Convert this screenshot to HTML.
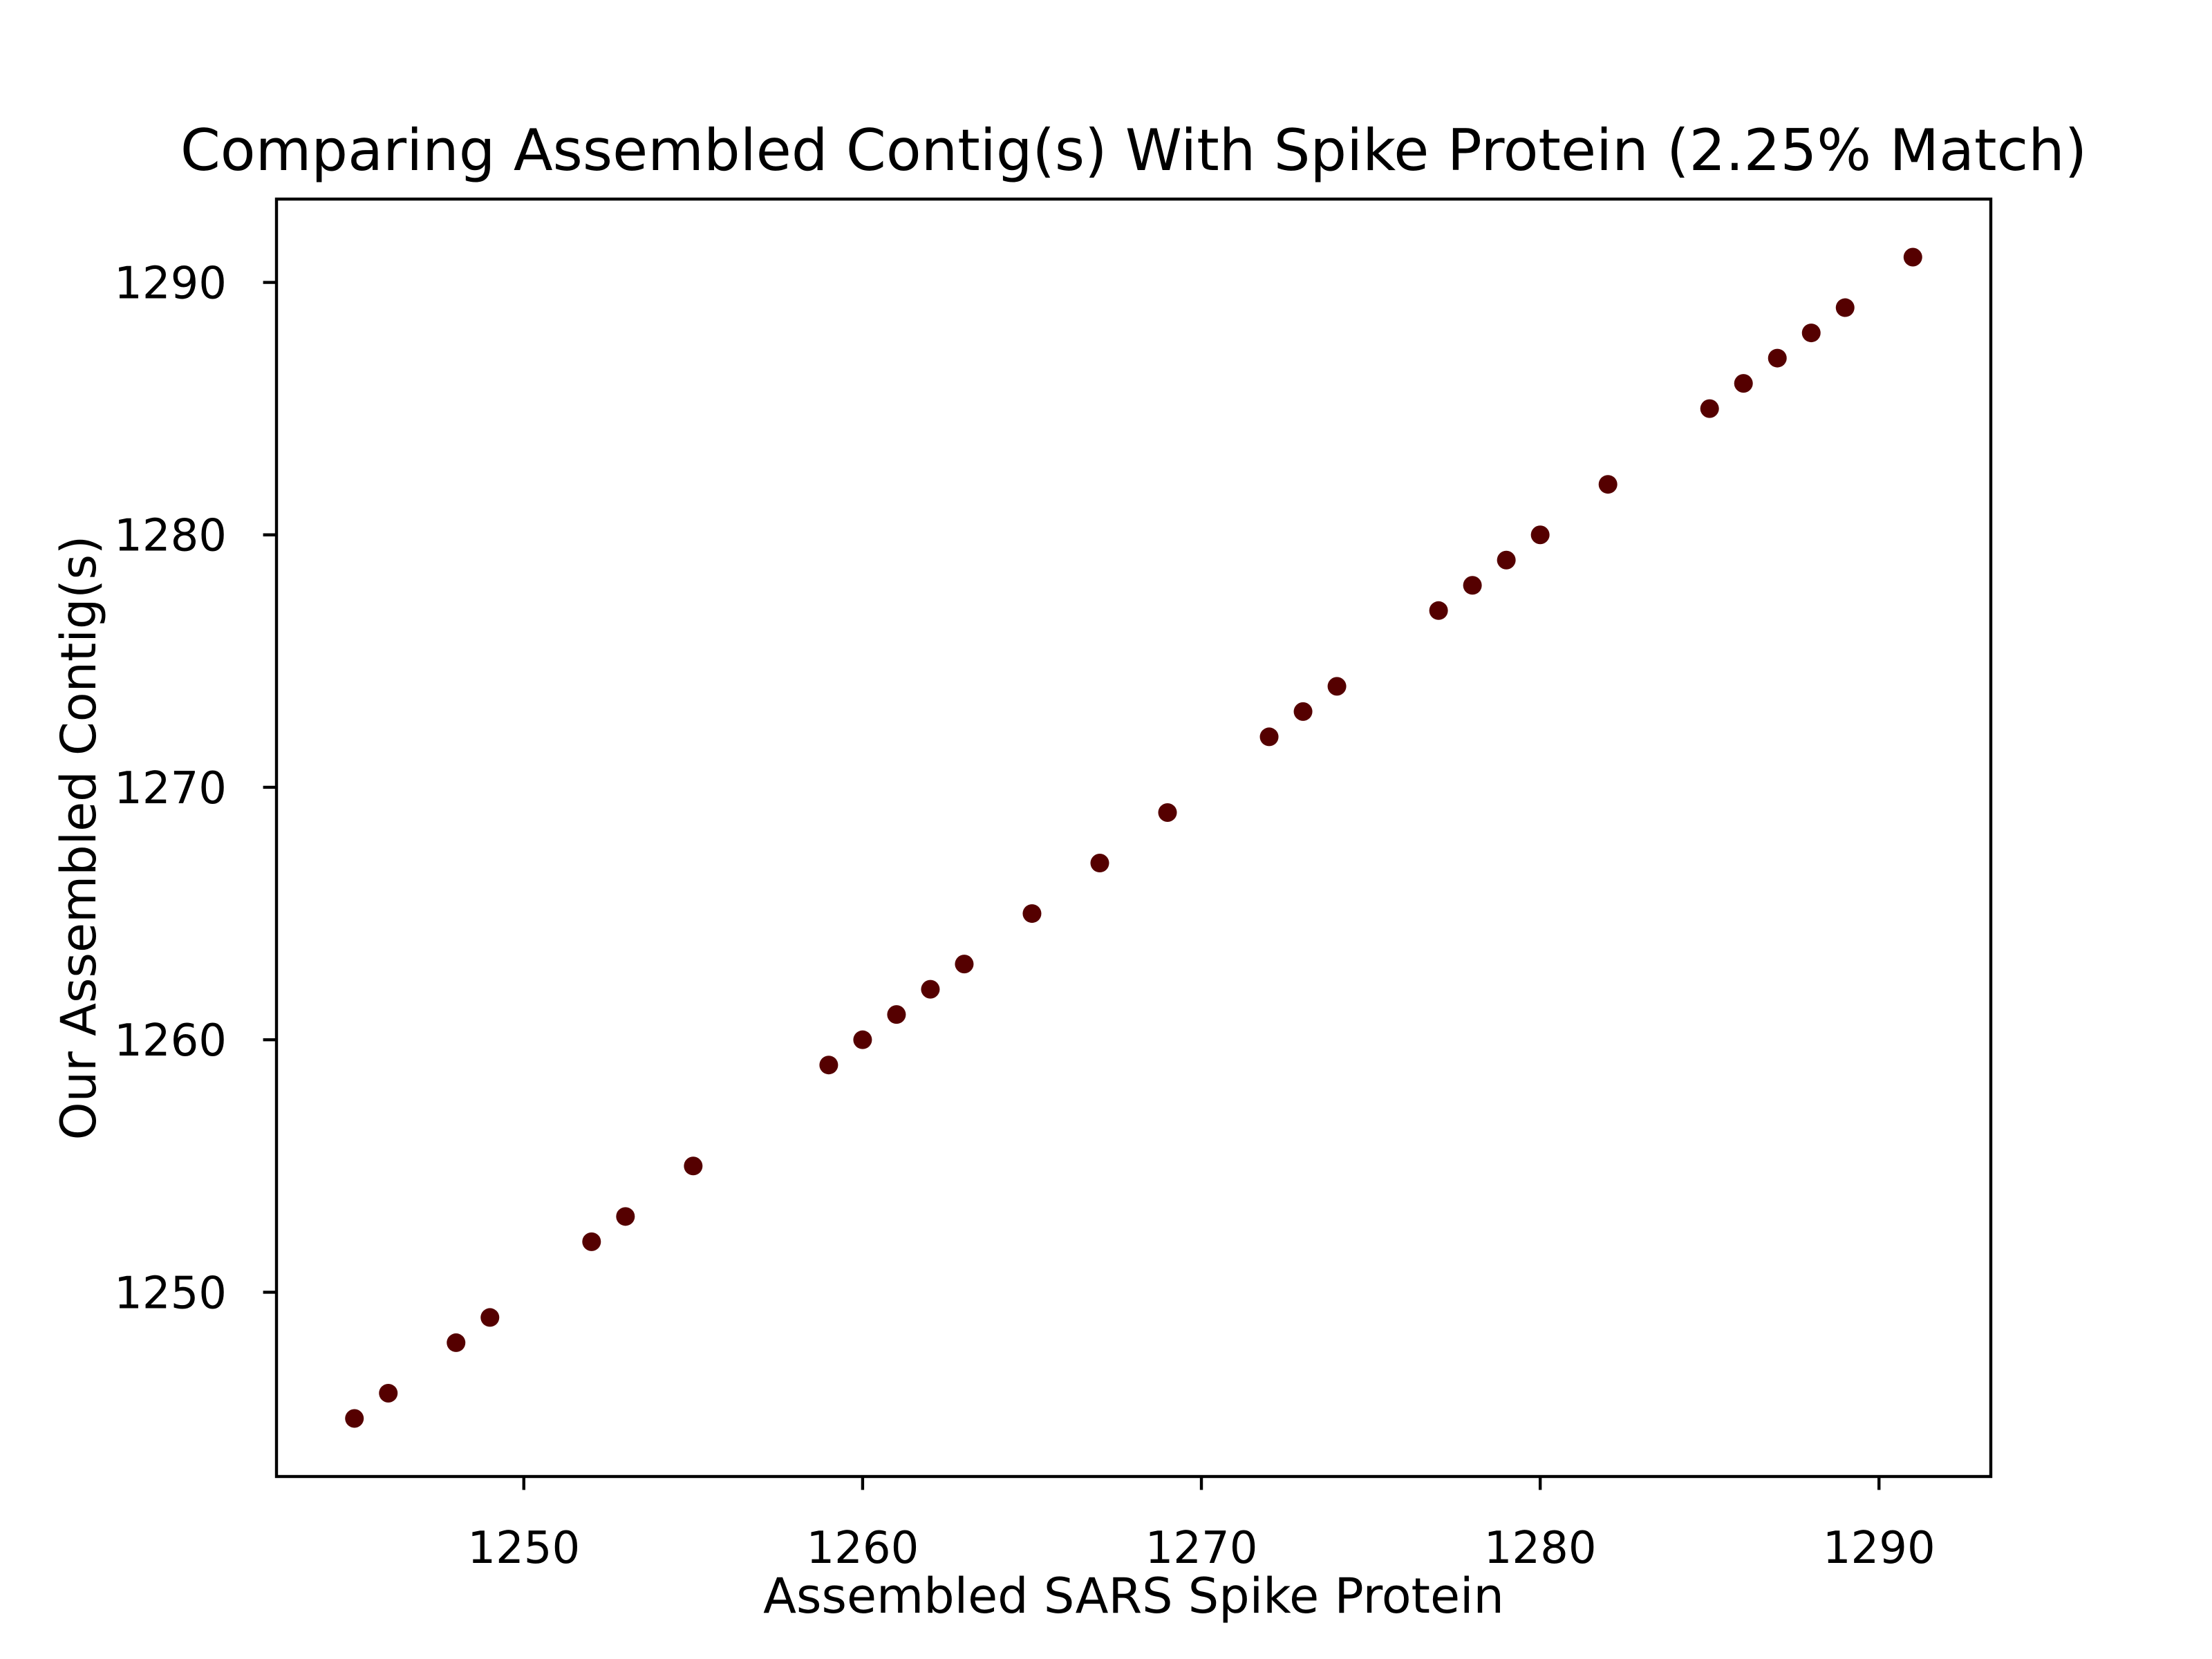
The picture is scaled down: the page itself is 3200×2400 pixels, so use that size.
<!DOCTYPE html>
<html><head><meta charset="utf-8"><style>
html,body{margin:0;padding:0;background:#fff;}
svg{display:block;font-family:"DejaVu Sans","Liberation Sans",sans-serif;}
</style></head><body>
<svg id="chart" width="3200" height="2400" viewBox="0 0 3200 2400" xmlns="http://www.w3.org/2000/svg">
<rect width="3200" height="2400" fill="#fff"/>
<text x="1640" y="246" font-size="83" text-anchor="middle">Comparing Assembled Contig(s) With Spike Protein (2.25% Match)</text>
<g id="points"></g>
<g id="axes"></g>
<rect x="400" y="288" width="2480" height="1848" fill="none" stroke="#000" stroke-width="4.4"/>
<text x="1640" y="2333" font-size="70" text-anchor="middle">Assembled SARS Spike Protein</text>
<text x="0" y="0" font-size="70" text-anchor="middle" transform="translate(138,1212) rotate(-90)">Our Assembled Contig(s)</text>
</svg>
<script>
const xValues = [1245,1246,1248,1249,1252,1253,1255,1259,1260,1261,1262,1263,1265,1267,1269,1272,1273,1274,1277,1278,1279,1280,1282,1285,1286,1287,1288,1289,1291];
const yValues = [1245,1246,1248,1249,1252,1253,1255,1259,1260,1261,1262,1263,1265,1267,1269,1272,1273,1274,1277,1278,1279,1280,1282,1285,1286,1287,1288,1289,1291];
const xTicks = [1250,1260,1270,1280,1290];
const yTicks = [1250,1260,1270,1280,1290];

const NS = "http://www.w3.org/2000/svg";
const L = 400, R = 2880, T = 288, B = 2136;
function ext(a){const mn=Math.min(...a),mx=Math.max(...a),p=(mx-mn)*0.05;return [mn-p,mx+p];}
const [x0,x1] = ext(xValues), [y0,y1] = ext(yValues);
const sx = v => L + (v-x0)/(x1-x0)*(R-L);
const sy = v => B - (v-y0)/(y1-y0)*(B-T);

const pg = document.getElementById('points');
xValues.forEach((xv,i)=>{
  const c = document.createElementNS(NS,'circle');
  
  
  c.setAttribute('cx', sx(xv));
  c.setAttribute('cy', sy(yValues[i]));
  c.setAttribute('r', 13.5);
  c.setAttribute('fill', '#550000');
  pg.appendChild(c);
});

const ag = document.getElementById('axes');
xTicks.forEach(t=>{
  const x = sx(t);
  const ln = document.createElementNS(NS,'line');
  
  
  ln.setAttribute('x1', x); ln.setAttribute('x2', x);
  ln.setAttribute('y1', B); ln.setAttribute('y2', B+19.4);
  ln.setAttribute('stroke', '#000'); ln.setAttribute('stroke-width', 4.4);
  ag.appendChild(ln);
  const tx = document.createElementNS(NS,'text');
  
  
  tx.setAttribute('x', x); tx.setAttribute('y', B+125);
  tx.setAttribute('font-size', 64); tx.setAttribute('text-anchor', 'middle');
  tx.textContent = t;
  ag.appendChild(tx);
});
yTicks.forEach(t=>{
  const y = sy(t);
  const ln = document.createElementNS(NS,'line');
  
  
  ln.setAttribute('x1', L-19.4); ln.setAttribute('x2', L);
  ln.setAttribute('y1', y); ln.setAttribute('y2', y);
  ln.setAttribute('stroke', '#000'); ln.setAttribute('stroke-width', 4.4);
  ag.appendChild(ln);
  const tx = document.createElementNS(NS,'text');
  
  
  tx.setAttribute('x', L-72); tx.setAttribute('y', y+23);
  tx.setAttribute('font-size', 64); tx.setAttribute('text-anchor', 'end');
  tx.textContent = t;
  ag.appendChild(tx);
});
</script>
</body></html>
